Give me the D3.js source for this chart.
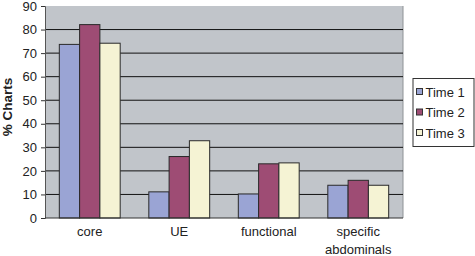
<!DOCTYPE html>
<html>
<head>
<meta charset="utf-8">
<script src="https://cdn.jsdelivr.net/npm/d3@7"></script>
<style>
  body { margin: 0; background: #fff; }
  text { font-family: "Liberation Sans", Arial, sans-serif; fill: #222; }
</style>
</head>
<body>
<div id="chart"></div>
<script>
var categories = ["core", "UE", "functional", "specific abdominals"]
var series = ["Time 1", "Time 2", "Time 3"]
var time1 = [73.7, 11.1, 10.2, 13.9]
var time2 = [82.1, 26.1, 23.0, 16.0]
var time3 = [74.2, 32.8, 23.4, 13.9]
var yTicks = [0, 10, 20, 30, 40, 50, 60, 70, 80, 90]
var colors = ["#9aa4d4", "#9e4c74", "#f5f3d4"]

var values = [time1, time2, time3]
var width = 475, height = 256
var margin = { top: 6, right: 72, bottom: 38, left: 45 }
var w = width - margin.left - margin.right
var h = height - margin.top - margin.bottom

var svg = d3.select("#chart").append("svg")
  .attr("width", width)
  .attr("height", height)

var g = svg.append("g").attr("transform", "translate(" + margin.left + "," + margin.top + ")")

var x = d3.scaleBand().domain(categories).range([0, w]).paddingInner(0.32).paddingOuter(0.16)
var xs = d3.scaleBand().domain(series).range([0, x.bandwidth()])
var y = d3.scaleLinear().domain([0, 90]).range([h, 0])

// plot background
g.append("rect")
  .attr("width", w)
  .attr("height", h)
  .attr("fill", "#c1c5ca")
g.append("line")
  .attr("x1", w).attr("x2", w).attr("y1", 0).attr("y2", h)
  .attr("stroke", "#8e9296")

// gridlines
g.selectAll(".grid")
  .data(yTicks.filter(d => d > 0 && d < 90))
  .enter().append("line")
  .attr("class", "grid")
  .attr("x1", 0).attr("x2", w)
  .attr("y1", d => y(d)).attr("y2", d => y(d))
  .attr("stroke", "#111")
  .attr("stroke-width", 1)

// bars
series.forEach(function (s, si) {
  g.selectAll(".bar" + si)
    .data(categories)
    .enter().append("rect")
    .attr("x", d => x(d) + xs(s))
    .attr("y", (d, i) => y(values[si][i]))
    .attr("width", xs.bandwidth())
    .attr("height", (d, i) => y(0) - y(values[si][i]))
    .attr("fill", colors[si])
    .attr("stroke", "#2a2a2a")
    .attr("stroke-width", 1)
})

// y axis
var yAxis = d3.axisLeft(y).tickValues(yTicks).tickSize(4).tickPadding(4)
var ya = g.append("g").call(yAxis)
ya.select(".domain").attr("stroke", "#555")
ya.selectAll(".tick line").attr("stroke", "#333")
ya.selectAll("text").style("font-size", "13px")

// x axis baseline
g.append("line")
  .attr("x1", 0).attr("x2", w)
  .attr("y1", h).attr("y2", h)
  .attr("stroke", "#333")

// category labels
var labelLines = { "specific abdominals": ["specific", "abdominals"] }
g.selectAll(".cat")
  .data(categories)
  .enter().append("text")
  .attr("class", "cat")
  .attr("text-anchor", "middle")
  .style("font-size", "13px")
  .each(function (d) {
    var lines = labelLines[d] || [d]
    var t = d3.select(this)
    lines.forEach(function (l, i) {
      t.append("tspan")
        .attr("x", x(d) + x.bandwidth() / 2)
        .attr("y", h + 18 + i * 18)
        .text(l)
    })
  })

// y title
svg.append("text")
  .attr("transform", "translate(12,107) rotate(-90)")
  .attr("text-anchor", "middle")
  .style("font-size", "13.5px")
  .style("font-weight", "bold")
  .text("% Charts")

// legend
var legend = svg.append("g").attr("transform", "translate(413,78.5)")
legend.append("rect")
  .attr("width", 61)
  .attr("height", 68)
  .attr("fill", "#fff")
  .attr("stroke", "#333")
series.forEach(function (s, i) {
  var row = legend.append("g").attr("transform", "translate(3.5," + (13.5 + i * 20.5) + ")")
  row.append("rect")
    .attr("x", 0).attr("y", -3.5)
    .attr("width", 6).attr("height", 6)
    .attr("fill", colors[i])
    .attr("stroke", "#333")
  row.append("text")
    .attr("x", 9)
    .attr("y", 0)
    .attr("dy", "0.35em")
    .style("font-size", "13px")
    .text(s)
})
</script>
</body>
</html>
